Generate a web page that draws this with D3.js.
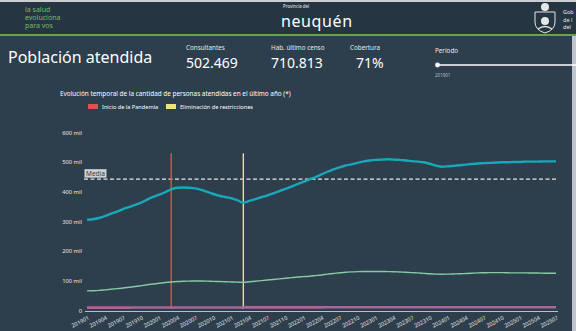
<!DOCTYPE html>
<html>
<head>
<meta charset="utf-8">
<script src="https://cdn.jsdelivr.net/npm/d3@7/dist/d3.min.js"></script>
<style>
  html, body { margin: 0; padding: 0; background: #2d3e4c; }
  svg { display: block; }
  text { font-family: "Noto Sans", "Open Sans", sans-serif; }
</style>
</head>
<body>
<svg id="chart" width="576" height="331"></svg>
<script>
// ---------- DATA ----------
const months = [
  "201901","201902","201903","201904","201905","201906","201907","201908","201909","201910","201911","201912",
  "202001","202002","202003","202004","202005","202006","202007","202008","202009","202010","202011","202012",
  "202101","202102","202103","202104","202105","202106","202107","202108","202109","202110","202111","202112",
  "202201","202202","202203","202204","202205","202206","202207","202208","202209","202210","202211","202212",
  "202301","202302","202303","202304","202305","202306","202307","202308","202309","202310","202311","202312",
  "202401","202402","202403","202404","202405","202406","202407","202408","202409","202410","202411","202412",
  "202501","202502","202503","202504","202505","202506","202507"
];
const tickLabels = ["201901","201904","201907","201910","202001","202004","202007","202010","202101","202104",
  "202107","202110","202201","202204","202207","202210","202301","202304","202307","202310","202401","202404",
  "202407","202410","202501","202504","202507"];
const totalAtendidos = [304,306,310,317,325,332,340,347,354,362,372,381,389,397,407,412,413,412,410,405,398,391,385,381,
  377,370,362,368,374,380,386,393,401,408,416,424,432,440,448,457,466,474,481,487,491,496,501,504,
  506,507,508,507,506,504,502,500,498,493,487,483,484,486,488,490,492,494,495,496,497,498,498,499,
  499,500,500,500,501,501,501].map(v => v * 1000);
const serieVerde = [64.5,65,66,68,70,72,74,76.5,79,82,85,87.5,90,92.5,94.5,96,97,97.5,98,98,97.5,96.5,96,95,
  94.5,94,93,95,97,99,101,103,105,107,109,111,112.5,114,116,118,121,123,125.5,127,128.5,129.5,130,130,
  130,130,129.5,129,128,127,126,125,123.5,122,121,120.5,121,121.5,122,123,124,125,125.5,126,126,126,125.5,125,
  125,125,124.5,124.5,124,124,124].map(v => v * 1000);
const serieRosa = [8,8,8,8,8,8,8,8,8.5,8.5,8.5,8.5,8.5,8.5,8.5,8.5,8.5,8.5,8.5,8.5,8.5,8.5,8.5,8.5,
  8.5,8.5,8.5,9,9,9,9,9,9,9,9,9,9,9,9,9,9.5,9.5,9.5,9.5,9.5,9.5,9.5,9.5,
  9.5,9.5,9.5,9.5,9.5,9.5,9.5,9.5,9.5,9.5,9.5,9.5,9.5,9.5,9.5,9.5,9.5,9.5,9.5,9.5,9.5,9.5,9.5,9.5,
  9.5,9.5,9.5,9.5,9.5,9.5,9.5].map(v => v * 1000);
const yTicks = [0, 100000, 200000, 300000, 400000, 500000, 600000];
const media = 441000;
const eventos = [
  { nombre: "Inicio de la Pandemia", mes: "202003", color: "#e0514c" },
  { nombre: "Eliminación de restricciones", mes: "202103", color: "#efe27a" }
];
const kpis = [
  { label: "Consultantes", value: "502.469" },
  { label: "Hab. último censo", value: "710.813" },
  { label: "Cobertura", value: "71%" }
];

// ---------- DRAW ----------
const svg = d3.select("#chart");
const W = 576, H = 331;

svg.append("rect").attr("width", W).attr("height", H).attr("fill", "#2d3e4c");
svg.append("rect").attr("x", 0).attr("y", 0).attr("width", W).attr("height", 34).attr("fill", "#263542");
svg.append("rect").attr("x", 0).attr("y", 0).attr("width", W).attr("height", 2).attr("fill", "#c9ced3");
svg.append("rect").attr("x", 0).attr("y", 34).attr("width", W).attr("height", 2).attr("fill", "#63a352");
svg.append("rect").attr("x", 572).attr("y", 36).attr("width", 4).attr("height", H - 36).attr("fill", "#bfc5cb");

["la salud", "evoluciona", "para vos"].forEach((t, i) => {
  svg.append("text").attr("x", 25).attr("y", 12 + i * 8).attr("font-size", 7)
    .attr("fill", "#7cba5e").text(t);
});
svg.append("text").attr("x", 283).attr("y", 8).attr("font-size", 4.4).attr("fill", "#e8e8e8").text("Provincia del");
svg.append("text").attr("x", 281).attr("y", 27).attr("font-size", 16).attr("fill", "#ffffff")
  .attr("letter-spacing", 0.6).text("neuquén");
const crest = svg.append("g").attr("transform", "translate(545,18)");
crest.append("path").attr("d", "M-10,-6 L10,-6 L10,4 Q10,12 0,15 Q-10,12 -10,4 Z")
  .attr("fill", "none").attr("stroke", "#e6e6e6").attr("stroke-width", 1);
crest.append("circle").attr("cx", 0).attr("cy", -11).attr("r", 4).attr("fill", "#e6e6e6");
crest.append("circle").attr("cx", 0).attr("cy", 3).attr("r", 4).attr("fill", "#e6e6e6");
crest.append("path").attr("d", "M-7,11 Q0,6 7,11").attr("fill", "none").attr("stroke", "#e6e6e6").attr("stroke-width", 1.5);
["Gob", "de l", "del"].forEach((t, i) => {
  svg.append("text").attr("x", 563).attr("y", 14 + i * 7.5).attr("font-size", 5.5).attr("fill", "#e6e6e6").text(t);
});

svg.append("text").attr("x", 8).attr("y", 63).attr("font-size", 16).attr("fill", "#ffffff").text("Población atendida");
const kx = [186, 271, 350];
kpis.forEach((k, i) => {
  svg.append("text").attr("x", kx[i]).attr("y", 50).attr("font-size", 6.3).attr("fill", "#e8e8e8").text(k.label);
  svg.append("text").attr("x", kx[i] + (i === 2 ? 6 : 0)).attr("y", 68).attr("font-size", 14)
    .attr("fill", "#ffffff").text(k.value);
});
svg.append("text").attr("x", 435).attr("y", 53).attr("font-size", 6.3).attr("fill", "#e8e8e8").text("Período");
svg.append("line").attr("x1", 437).attr("x2", 576).attr("y1", 65).attr("y2", 65)
  .attr("stroke", "#ffffff").attr("stroke-width", 1.5);
svg.append("circle").attr("cx", 437.5).attr("cy", 65).attr("r", 2.4).attr("fill", "#ffffff");
svg.append("text").attr("x", 435).attr("y", 77).attr("font-size", 4.5).attr("fill", "#b8bec4").text(months[0]);

svg.append("text").attr("x", 60).attr("y", 96).attr("font-size", 6.4).attr("fill", "#ffffff")
  .text("Evolución temporal de la cantidad de personas atendidas en el último año (*)");
const legX = [88, 166];
eventos.forEach((e, i) => {
  svg.append("rect").attr("x", legX[i]).attr("y", 104).attr("width", 10).attr("height", 5).attr("fill", e.color);
  svg.append("text").attr("x", legX[i] + 14).attr("y", 109).attr("font-size", 5.6).attr("fill", "#ffffff").text(e.nombre);
});

const x = d3.scalePoint().domain(months).range([87, 556]);
const y = d3.scaleLinear().domain([0, 600000]).range([310, 132]);

const fmt = v => v === 0 ? "0" : (v / 1000) + " mil";
const yAxis = d3.axisLeft(y).tickValues(yTicks).tickFormat(fmt).tickSize(0).tickPadding(0);
const gy = svg.append("g").attr("transform", "translate(82,0)").call(yAxis);
gy.select(".domain").remove();
gy.selectAll("text").attr("font-size", 5.8).attr("fill", "#eaeaea")
  .attr("font-family", "'Noto Sans', sans-serif").attr("dy", "0.35em");

const xAxis = d3.axisBottom(x).tickValues(tickLabels).tickSize(0).tickPadding(0);
const gx = svg.append("g").attr("transform", `translate(0,${y(0)})`).call(xAxis);
gx.select(".domain").attr("stroke", "#b9c0c6").attr("stroke-width", 1)
  .attr("d", `M${x(months[0]) - 2},1.5H${x(months[months.length - 1]) + 2}`);
gx.selectAll(".tick text")
  .attr("font-size", 5.5).attr("fill", "#e6e6e6").attr("font-family", "'Noto Sans', sans-serif")
  .attr("text-anchor", "end").attr("dy", 0)
  .attr("transform", "translate(2,9) rotate(-28)");

svg.append("line").attr("x1", 84).attr("x2", 558).attr("y1", y(media)).attr("y2", y(media))
  .attr("stroke", "#e8e8e8").attr("stroke-width", 1.2).attr("stroke-dasharray", "4,2.5");
svg.append("rect").attr("x", 84.5).attr("y", y(media) - 10).attr("width", 22).attr("height", 8.5).attr("fill", "#cfd2d4");
svg.append("text").attr("x", 86).attr("y", y(media) - 3.5).attr("font-size", 6.5).attr("fill", "#2d3e4c").text("Media");

eventos.forEach(e => {
  svg.append("line").attr("x1", x(e.mes)).attr("x2", x(e.mes)).attr("y1", y(528000)).attr("y2", y(0) - 1)
    .attr("stroke", e.color).attr("stroke-width", 1.4);
});

const line = d3.line().x((d, i) => x(months[i])).y(d => y(d)).curve(d3.curveMonotoneX);
svg.append("path").datum(serieRosa).attr("d", line).attr("fill", "none")
  .attr("stroke", "#a8679c").attr("stroke-width", 2.6);
svg.append("path").datum(serieVerde).attr("d", line).attr("fill", "none")
  .attr("stroke", "#86c9a3").attr("stroke-width", 1.4);
svg.append("path").datum(totalAtendidos).attr("d", line).attr("fill", "none")
  .attr("stroke", "#19a7ba").attr("stroke-width", 2.4);
</script>
</body>
</html>
